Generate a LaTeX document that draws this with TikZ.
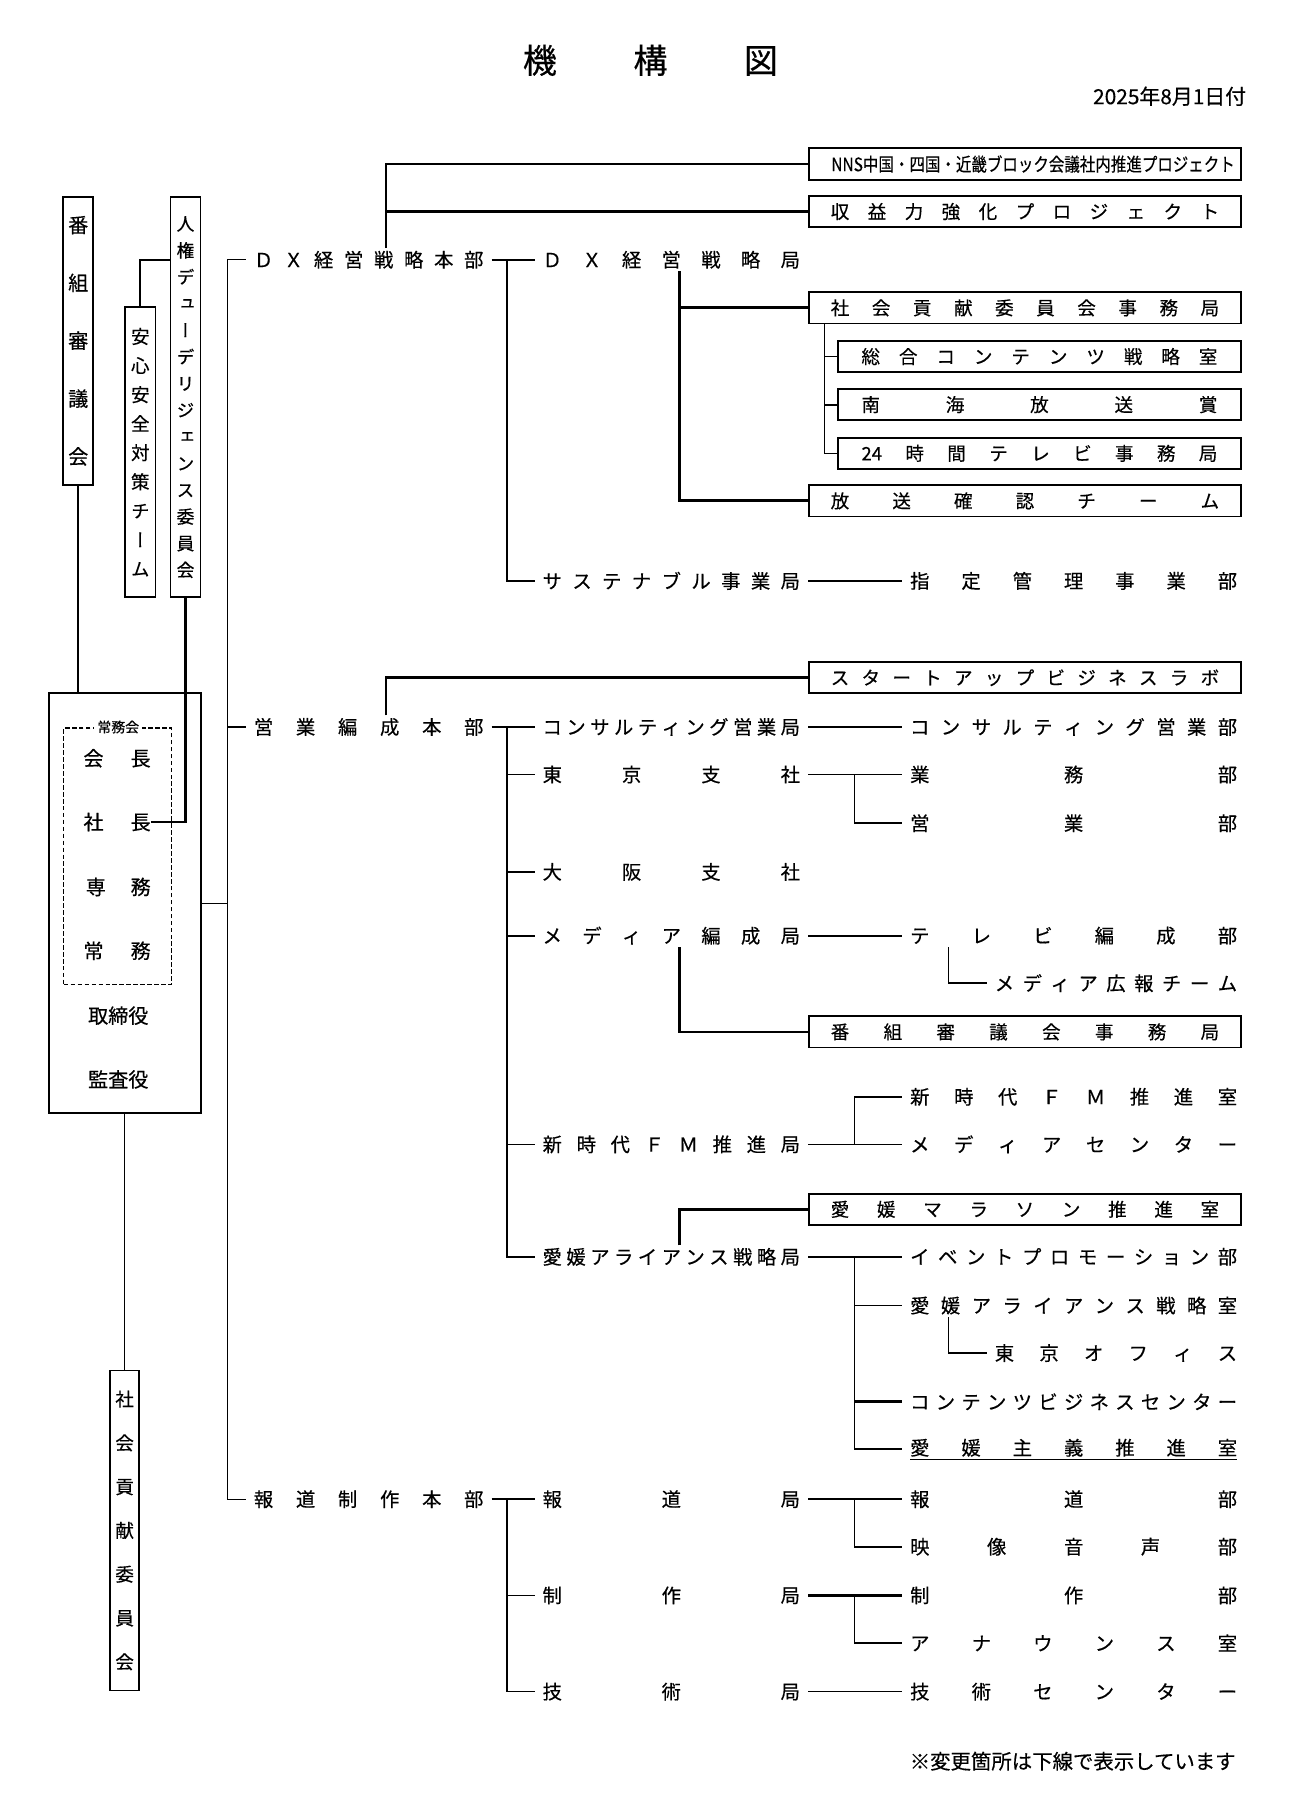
\documentclass[tikz,border=0pt]{standalone}
\usepackage{fontspec}
\usepackage{graphicx}
\setmainfont{Noto Sans CJK JP}[FakeBold=0.4]
\newfontfamily\vjp[RawFeature=+vert, FakeBold=0.4]{Noto Sans CJK JP}
\usetikzlibrary{calc}

\newlength\unitpx
\setlength\unitpx{0.75pt}

\makeatletter
% spread the characters evenly over a given width / height
\newcommand\spread[2]{\makebox[#1][s]{\let\sp@gap\relax\@tfor\sp@c:=#2\do{\sp@gap\sp@c\let\sp@gap\hfill}}}
\newcommand\vspread[2]{\parbox[c][#1][s]{1.5em}{\centering\let\sp@gap\relax\@tfor\sp@c:=#2\do{\sp@gap\sp@c\endgraf\let\sp@gap\vfill}}}
\makeatother

\tikzset{
  lbl/.style={inner xsep=0pt, inner ysep=1.5pt, outer xsep=7*\unitpx, font=\fontsize{12.5}{13}\selectfont},
  bx/.style={draw, line width=1.2pt, inner sep=0pt, minimum width=372*\unitpx, minimum height=27*\unitpx, font=\fontsize{12}{13}\selectfont},
  sbx/.style={bx, minimum width=347*\unitpx},
  vbx/.style={draw, line width=1.1pt, inner sep=0pt},
  ln/.style={line width=1.1pt},
  tk/.style={line width=1.8pt},
  trunk/.style={line width=0.8pt}
}

\begin{document}
\begin{tikzpicture}[x=0.75pt,y=0.75pt,yscale=-1]
  \useasboundingbox (0,0) rectangle (1121,1568);
  
  %Columns of the connectors
  \coordinate (colA) at (196,0);
  \coordinate (colU) at (333,0);
  \coordinate (colB) at (437,0);
  \coordinate (colM) at (586,0);
  \coordinate (colS) at (711,0);
  \coordinate (colC) at (737,0);
  \coordinate (colD) at (818,0);
  
  %Title
  \node (title) at (561,52) {\fontsize{22}{24}\selectfont\spread{220\unitpx}{機構図}};
  \node [anchor=east, inner sep=0pt, font=\fontsize{13.5}{15}\selectfont] (date) at (1075,83) {2025年8月1日付};
  
  %Shape: vertical boxes
  \node [vbx, minimum width=25*\unitpx, minimum height=248*\unitpx, font=\fontsize{13}{14}\selectfont] (bangumi) at (67.5,294) {\vspread{214\unitpx}{番組審議会}};
  \node [vbx, minimum width=26*\unitpx, minimum height=345*\unitpx, font=\vjp\fontsize{11.5}{12}\selectfont] (jinken) at (160,342.5) {\vspread{311\unitpx}{人権デューデリジェンス委員会}};
  \node [vbx, minimum width=26*\unitpx, minimum height=250*\unitpx, font=\vjp\fontsize{12}{12}\selectfont] (anshin) at (121,390) {\vspread{214\unitpx}{安心安全対策チーム}};
  \node [vbx, minimum width=25*\unitpx, minimum height=276*\unitpx, font=\fontsize{12}{12}\selectfont] (shakai) at (107.5,1320) {\vspread{240\unitpx}{社会貢献委員会}};
  
  %Shape: board
  \node [draw, line width=1.2pt, minimum width=131*\unitpx, minimum height=362*\unitpx] (board) at (107.5,779) {};
  \node [draw, line width=0.9pt, dash pattern=on 3pt off 1.5pt, minimum width=93*\unitpx, minimum height=221*\unitpx] (jomu) at (101.5,738.5) {};
  \node [fill=white, inner xsep=2pt, inner ysep=0pt, font=\fontsize{9}{10}\selectfont] (jomukai) at (102,627) {常務会};
  \node [inner sep=0pt, font=\fontsize{13}{14}\selectfont] (kaicho) at (101,654) {\spread{58\unitpx}{会長}};
  \node [inner sep=0pt, font=\fontsize{13}{14}\selectfont] (shacho) at (101,709) {\spread{58\unitpx}{社長}};
  \node [inner sep=0pt, font=\fontsize{13}{14}\selectfont] (senmu) at (102,765) {\spread{56\unitpx}{専務}};
  \node [inner sep=0pt, font=\fontsize{13}{14}\selectfont] (jomuy) at (101,820) {\spread{58\unitpx}{常務}};
  \node [inner sep=0pt, font=\fontsize{13}{14}\selectfont] (torishimari) at (102,876) {取締役};
  \node [inner sep=0pt, font=\fontsize{13}{14}\selectfont] (kansa) at (102,931) {監査役};
  
  %Text Node: headquarters
  \node [lbl] (dxhq) at (318,224) {\spread{198\unitpx}{ＤＸ経営戦略本部}};
  \node [lbl] (eihq) at (318,627) {\spread{198\unitpx}{営業編成本部}};
  \node [lbl] (hodohq) at (318,1293) {\spread{198\unitpx}{報道制作本部}};
  
  %Text Node: DX
  \node [bx] (nns) at (884,141.5) {\hspace*{14\unitpx}\resizebox{348\unitpx}{\height}{NNS中国・四国・近畿ブロック会議社内推進プロジェクト}};
  \node [bx] (shueki) at (884,182.5) {\spread{335\unitpx}{収益力強化プロジェクト}};
  \node [lbl] (dxk) at (579,224) {\spread{222\unitpx}{ＤＸ経営戦略局}};
  \node [bx] (sjim) at (884,265.5) {\spread{335\unitpx}{社会貢献委員会事務局}};
  \node [sbx] (sogo) at (896.5,307.5) {\spread{307\unitpx}{総合コンテンツ戦略室}};
  \node [sbx] (nankai) at (896.5,349) {\spread{307\unitpx}{南海放送賞}};
  \node [sbx] (tv24) at (896.5,391) {\spread{307\unitpx}{{24}時間テレビ事務局}};
  \node [bx] (hoso) at (884,432) {\spread{335\unitpx}{放送確認チーム}};
  \node [lbl] (sus) at (579,501) {\spread{222\unitpx}{サステナブル事業局}};
  \node [lbl] (shitei) at (926,501) {\spread{282\unitpx}{指定管理事業部}};
  
  %Text Node: eigyo
  \node [bx] (startup) at (884,584.5) {\spread{335\unitpx}{スタートアップビジネスラボ}};
  \node [lbl] (consk) at (579,627) {\spread{222\unitpx}{コンサルティング営業局}};
  \node [lbl] (consb) at (926,627) {\spread{282\unitpx}{コンサルティング営業部}};
  \node [lbl] (tokyok) at (579,668) {\spread{222\unitpx}{東京支社}};
  \node [lbl] (gyomu) at (926,668) {\spread{282\unitpx}{業務部}};
  \node [lbl] (eigyo) at (926,710) {\spread{282\unitpx}{営業部}};
  \node [lbl] (osaka) at (579,752) {\spread{222\unitpx}{大阪支社}};
  \node [lbl] (mhen) at (579,807) {\spread{222\unitpx}{メディア編成局}};
  \node [lbl] (tvhen) at (926,807) {\spread{282\unitpx}{テレビ編成部}};
  \node [lbl] (mkoho) at (962.5,848) {\spread{209\unitpx}{メディア広報チーム}};
  \node [bx] (bjim) at (884,890) {\spread{335\unitpx}{番組審議会事務局}};
  \node [lbl] (fmshitsu) at (926,946) {\spread{282\unitpx}{新時代ＦＭ推進室}};
  \node [lbl] (fmk) at (579,987) {\spread{222\unitpx}{新時代ＦＭ推進局}};
  \node [lbl] (mcenter) at (926,987) {\spread{282\unitpx}{メディアセンター}};
  \node [bx] (marathon) at (884,1043) {\spread{335\unitpx}{愛媛マラソン推進室}};
  \node [lbl] (ehk) at (579,1084) {\spread{222\unitpx}{愛媛アライアンス戦略局}};
  \node [lbl] (event) at (926,1084) {\spread{282\unitpx}{イベントプロモーション部}};
  \node [lbl] (ehs) at (926,1126) {\spread{282\unitpx}{愛媛アライアンス戦略室}};
  \node [lbl] (tkoffice) at (962.5,1167) {\spread{209\unitpx}{東京オフィス}};
  \node [lbl] (cbc) at (926,1209) {\spread{282\unitpx}{コンテンツビジネスセンター}};
  \node [lbl] (ehshugi) at (926,1250) {\underline{\spread{282\unitpx}{愛媛主義推進室}}};
  
  %Text Node: hodo
  \node [lbl] (hodok) at (579,1293) {\spread{222\unitpx}{報道局}};
  \node [lbl] (hodob) at (926,1293) {\spread{282\unitpx}{報道部}};
  \node [lbl] (eizo) at (926,1334) {\spread{282\unitpx}{映像音声部}};
  \node [lbl] (seisakuk) at (579,1376) {\spread{222\unitpx}{制作局}};
  \node [lbl] (seisakub) at (926,1376) {\spread{282\unitpx}{制作部}};
  \node [lbl] (announce) at (926,1417) {\spread{282\unitpx}{アナウンス室}};
  \node [lbl] (gijutsuk) at (579,1459) {\spread{222\unitpx}{技術局}};
  \node [lbl] (gijutsuc) at (926,1459) {\spread{282\unitpx}{技術センター}};
  
  \node [anchor=east, inner sep=0pt, font=\fontsize{13.2}{15}\selectfont] (note) at (1066,1519) {※変更箇所は下線で表示しています};
  
  %Straight Lines: left side
  \draw [trunk] (dxhq.west) -| (colA |- hodohq.west) -- (hodohq.west);
  \draw [trunk] (colA |- eihq.west) -- (eihq.west);
  \draw [trunk] (board.east) -- (board.east -| colA);
  \draw [ln] (bangumi.south) -- (bangumi.south |- board.north);
  \draw [ln] (anshin.north) |- (jinken.west |- dxhq.west);
  \draw [tk] (jinken.south) |- (shacho.east);
  \draw [ln] (board.south) -- (shakai.north);
  
  %Straight Lines: DX
  \draw [ln] (dxhq.east) -- (dxk.west);
  \draw [ln] (colB |- dxhq.east) |- (sus.west);
  \draw [ln] (sus.east) -- (shitei.west);
  \draw [tk] (colU |- dxhq.north) |- (nns.west);
  \draw [tk] (colU |- shueki.west) -- (shueki.west);
  \draw [tk] (colM |- dxk.south) |- (hoso.west);
  \draw [tk] (colM |- sjim.west) -- (sjim.west);
  \draw [ln] (colS |- sjim.south) |- (tv24.west);
  \draw [ln] (colS |- sogo.west) -- (sogo.west);
  \draw [ln] (colS |- nankai.west) -- (nankai.west);
  
  %Straight Lines: eigyo
  \draw [tk] (colU |- eihq.north) |- (startup.west);
  \draw [ln] (eihq.east) -- (consk.west);
  \draw [ln] (colB |- eihq.east) |- (ehk.west);
  \draw [ln] (colB |- tokyok.west) -- (tokyok.west);
  \draw [ln] (colB |- osaka.west) -- (osaka.west);
  \draw [ln] (colB |- mhen.west) -- (mhen.west);
  \draw [ln] (colB |- fmk.west) -- (fmk.west);
  \draw [ln] (consk.east) -- (consb.west);
  \draw [ln] (tokyok.east) -- (gyomu.west);
  \draw [ln] (colC |- tokyok.east) |- (eigyo.west);
  \draw [ln] (mhen.east) -- (tvhen.west);
  \draw [ln] (colD |- tvhen.south) |- (mkoho.west);
  \draw [tk] (colM |- mhen.south) |- (bjim.west);
  \draw [ln] (fmk.east) -- (mcenter.west);
  \draw [ln] (colC |- fmk.east) |- (fmshitsu.west);
  \draw [tk] (colM |- ehk.north) |- (marathon.west);
  \draw [ln] (ehk.east) -- (event.west);
  \draw [ln] (colC |- ehk.east) |- (ehshugi.west);
  \draw [ln] (colC |- ehs.west) -- (ehs.west);
  \draw [tk] (colC |- cbc.west) -- (cbc.west);
  \draw [ln] (colD |- ehs.south) |- (tkoffice.west);
  
  %Straight Lines: hodo
  \draw [ln] (hodohq.east) -- (hodok.west);
  \draw [ln] (colB |- hodohq.east) |- (gijutsuk.west);
  \draw [ln] (colB |- seisakuk.west) -- (seisakuk.west);
  \draw [ln] (hodok.east) -- (hodob.west);
  \draw [ln] (colC |- hodok.east) |- (eizo.west);
  \draw [tk] (seisakuk.east) -- (seisakub.west);
  \draw [ln] (colC |- seisakuk.east) |- (announce.west);
  \draw [ln] (gijutsuk.east) -- (gijutsuc.west);
\end{tikzpicture}
\end{document}
